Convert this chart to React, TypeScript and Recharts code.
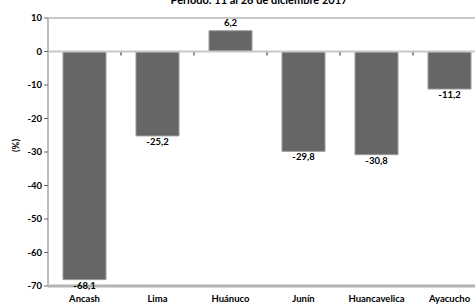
import { BarChart, Bar, XAxis, YAxis, ReferenceLine, LabelList, usePlotArea } from 'recharts';

const regiones = ['Ancash', 'Lima', 'Huánuco', 'Junín', 'Huancavelica', 'Ayacucho'];
const variacion = [-68.1, -25.2, 6.2, -29.8, -30.8, -11.2];
const yTicks = [-70, -60, -50, -40, -30, -20, -10, 0, 10];

const data = regiones.map((r, i) => ({ region: r, valor: variacion[i] }));

const FONT = 'Lato, "Liberation Sans", sans-serif';

const fmt = (v: number) => v.toFixed(1).replace('.', ',');

function ValueLabel(props: any) {
  const { x, y, width, height, value } = props;
  const top = Math.min(y, y + height);
  const bottom = Math.max(y, y + height);
  const cx = x + width / 2;
  return (
    <text
      x={cx}
      y={value >= 0 ? top - 5 : bottom + 9}
      textAnchor="middle"
      fontSize={9.5}
      fontWeight={700}
      fontFamily={FONT}
      fill="#000"
    >
      {fmt(value)}
    </text>
  );
}

// frame + small category ticks on the zero line
function Frame() {
  const area = usePlotArea ? usePlotArea() : null;
  if (!area) return null;
  const { x, y, width, height } = area;
  const zeroY = y + (height * 10) / 80;
  const step = width / regiones.length;
  return (
    <g>
      <line x1={x} x2={x + width} y1={y} y2={y} stroke="#c8c8c8" strokeWidth={2} />
      {regiones.slice(1).map((r, i) => (
        <line
          key={r}
          x1={x + step * (i + 1)}
          x2={x + step * (i + 1)}
          y1={zeroY}
          y2={zeroY + 4}
          stroke="#222"
          strokeWidth={1}
        />
      ))}
    </g>
  );
}

export default function App() {
  return (
    <div style={{ position: 'fixed', left: 0, top: 0, width: 475, height: 304, overflow: 'hidden', background: '#fff' }}>
      <div
        style={{
          position: 'absolute',
          left: 0,
          width: 518,
          top: -7,
          textAlign: 'center',
          fontFamily: FONT,
          fontWeight: 700,
          fontSize: 11,
          lineHeight: '13px',
        }}
      >
        Periodo: 11 al 26 de diciembre 2017
      </div>
      <BarChart
        width={490}
        height={304}
        data={data}
        margin={{ top: 18, right: 4, left: 0, bottom: 0 }}
        barSize={43}
      >
        <XAxis
          dataKey="region"
          height={18}
          tickLine={false}
          tickMargin={0}
          axisLine={{ stroke: '#b4b4b4', strokeWidth: 3 }}
          tick={{ fontSize: 9.5, fontWeight: 700, fill: '#000', fontFamily: FONT, dy: 3 }}
          interval={0}
        />
        <YAxis
          width={48}
          domain={[-70, 10]}
          ticks={yTicks}
          interval={0}
          tickSize={4}
          tickLine={{ stroke: '#666' }}
          axisLine={{ stroke: '#bdbdbd', strokeWidth: 2 }}
          tick={{ fontSize: 9.5, fontWeight: 700, fill: '#000', fontFamily: FONT }}
          label={{
            value: '(%)',
            angle: -90,
            position: 'insideLeft',
            offset: 16,
            style: { fontSize: 9.5, fontWeight: 700, fill: '#000', fontFamily: FONT },
          }}
        />
        <ReferenceLine y={0} stroke="#c8c8c8" strokeWidth={2} />
        <Frame />
        <Bar dataKey="valor" fill="#666666" stroke="#9a9a9a" strokeWidth={1} isAnimationActive={false}>
          <LabelList dataKey="valor" content={ValueLabel} />
        </Bar>
      </BarChart>
    </div>
  );
}
